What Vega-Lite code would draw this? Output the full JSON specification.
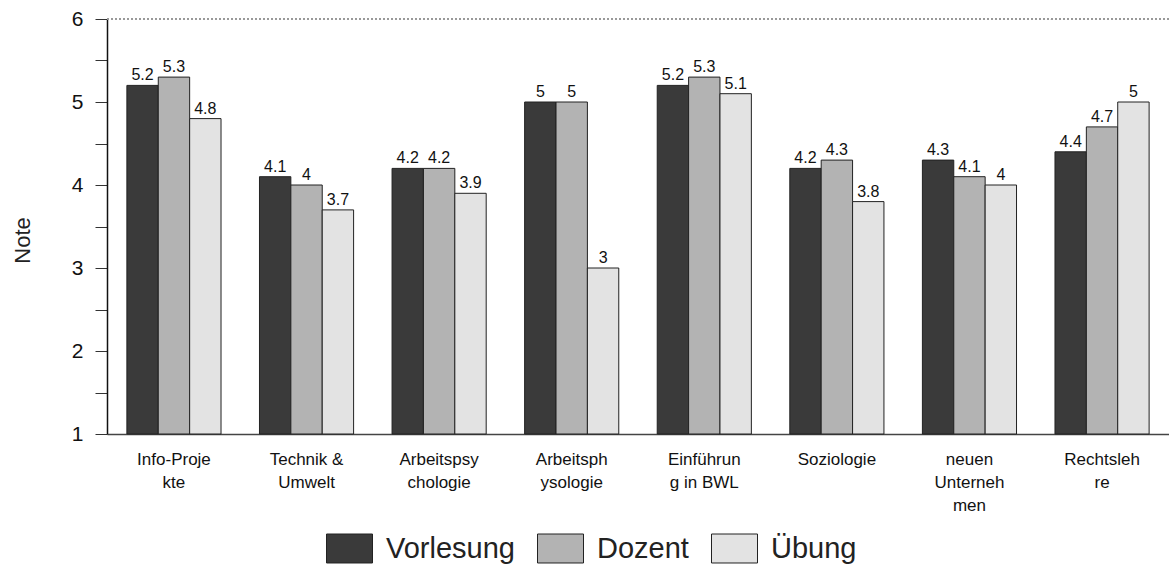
{
  "$schema": "https://vega.github.io/schema/vega-lite/v6.json",
  "width": 1062,
  "height": 415,
  "autosize": {"type": "none"},
  "padding": {"left": 107, "top": 19, "right": 0, "bottom": 136},
  "background": "white",
  "config": {
    "font": "Liberation Sans",
    "view": {"stroke": null}
  },
  "data": {
    "values": [
      {"kurs": "Info-Proje|kte", "art": "Vorlesung", "note": 5.2},
      {"kurs": "Info-Proje|kte", "art": "Dozent", "note": 5.3},
      {"kurs": "Info-Proje|kte", "art": "Übung", "note": 4.8},
      {"kurs": "Technik &|Umwelt", "art": "Vorlesung", "note": 4.1},
      {"kurs": "Technik &|Umwelt", "art": "Dozent", "note": 4},
      {"kurs": "Technik &|Umwelt", "art": "Übung", "note": 3.7},
      {"kurs": "Arbeitspsy|chologie", "art": "Vorlesung", "note": 4.2},
      {"kurs": "Arbeitspsy|chologie", "art": "Dozent", "note": 4.2},
      {"kurs": "Arbeitspsy|chologie", "art": "Übung", "note": 3.9},
      {"kurs": "Arbeitsph|ysologie", "art": "Vorlesung", "note": 5},
      {"kurs": "Arbeitsph|ysologie", "art": "Dozent", "note": 5},
      {"kurs": "Arbeitsph|ysologie", "art": "Übung", "note": 3},
      {"kurs": "Einführun|g in BWL", "art": "Vorlesung", "note": 5.2},
      {"kurs": "Einführun|g in BWL", "art": "Dozent", "note": 5.3},
      {"kurs": "Einführun|g in BWL", "art": "Übung", "note": 5.1},
      {"kurs": "Soziologie", "art": "Vorlesung", "note": 4.2},
      {"kurs": "Soziologie", "art": "Dozent", "note": 4.3},
      {"kurs": "Soziologie", "art": "Übung", "note": 3.8},
      {"kurs": "neuen|Unterneh|men", "art": "Vorlesung", "note": 4.3},
      {"kurs": "neuen|Unterneh|men", "art": "Dozent", "note": 4.1},
      {"kurs": "neuen|Unterneh|men", "art": "Übung", "note": 4},
      {"kurs": "Rechtsleh|re", "art": "Vorlesung", "note": 4.4},
      {"kurs": "Rechtsleh|re", "art": "Dozent", "note": 4.7},
      {"kurs": "Rechtsleh|re", "art": "Übung", "note": 5}
    ]
  },
  "encoding": {
    "x": {
      "field": "kurs",
      "type": "nominal",
      "sort": null,
      "scale": {"paddingInner": 0.29, "paddingOuter": 0.15},
      "axis": {
        "title": null,
        "labelAngle": 0,
        "labelExpr": "split(datum.label, '|')",
        "labelFontSize": 17,
        "labelColor": "#111",
        "labelLineHeight": 23,
        "labelPadding": 17,
        "ticks": false,
        "domainColor": "#444",
        "domainWidth": 1.5,
        "labelLimit": 200
      }
    },
    "xOffset": {"field": "art", "type": "nominal", "sort": ["Vorlesung", "Dozent", "Übung"]}
  },
  "layer": [
    {
      "mark": {"type": "rule", "strokeDash": [2, 2], "color": "#999", "strokeWidth": 1},
      "encoding": {"y": {"datum": 6}, "x": null, "xOffset": null}
    },
    {
      "mark": {"type": "bar", "stroke": "#222", "strokeWidth": 1},
      "encoding": {
        "y": {
          "field": "note",
          "type": "quantitative",
          "scale": {"domain": [1, 6], "zero": false, "nice": false},
          "axis": {
            "title": "Note",
            "titleFontSize": 22,
            "titleFontWeight": "normal",
            "titleColor": "#222",
            "titleX": -85,
            "titleY": 221,
            "titleAngle": -90,
            "titleBaseline": "middle",
            "titleAlign": "center",
            "values": [1, 1.5, 2, 2.5, 3, 3.5, 4, 4.5, 5, 5.5, 6],
            "labelExpr": "datum.value % 1 === 0 ? format(datum.value, 'd') : ''",
            "labelFontSize": 21,
            "labelColor": "#111",
            "labelPadding": 12,
            "tickSize": 12,
            "tickColor": "#333",
            "domainColor": "#111",
            "domainWidth": 1.5,
            "grid": false
          }
        },
        "y2": {"datum": 1},
        "fill": {
          "field": "art",
          "type": "nominal",
          "sort": ["Vorlesung", "Dozent", "Übung"],
          "scale": {"domain": ["Vorlesung", "Dozent", "Übung"], "range": ["#3a3a3a", "#b3b3b3", "#e3e3e3"]},
          "legend": {
            "title": null,
            "orient": "none",
            "direction": "horizontal",
            "legendX": 219,
            "legendY": 506,
            "padding": 0,
            "symbolType": "M-1,-0.63H1V0.63H-1Z",
            "symbolSize": 2116,
            "symbolStrokeColor": "#222",
            "symbolStrokeWidth": 1,
            "labelFontSize": 29,
            "labelColor": "#222",
            "labelOffset": 13,
            "columnPadding": 20
          }
        }
      }
    },
    {
      "mark": {"type": "text", "baseline": "bottom", "dy": -2, "fontSize": 16, "color": "#111"},
      "encoding": {
        "y": {"field": "note", "type": "quantitative"},
        "text": {"field": "note", "type": "quantitative"}
      }
    }
  ]
}
